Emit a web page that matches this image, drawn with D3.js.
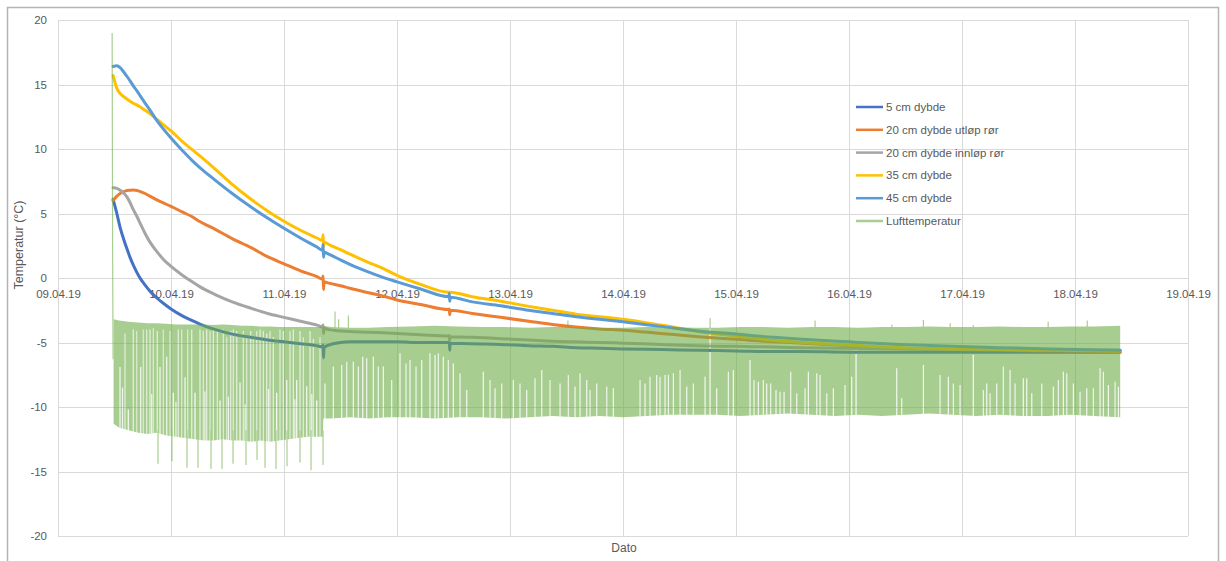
<!DOCTYPE html>
<html>
<head>
<meta charset="utf-8">
<script src="https://cdn.jsdelivr.net/npm/d3@7"></script>
<style>
  html, body { margin: 0; padding: 0; background: #fff; }
  svg { display: block; font-family: "Liberation Sans", Arial, sans-serif; }
</style>
</head>
<body>
<svg id="chart" width="1226" height="561"></svg>
<script>
// ---- Data -------------------------------------------------------------
// Time axis labels (day ticks) and temperature ticks
const xTickLabels = ["09.04.19", "10.04.19", "11.04.19", "12.04.19", "13.04.19",
                     "14.04.19", "15.04.19", "16.04.19", "17.04.19", "18.04.19", "19.04.19"];
const yTickValues = [-20, -15, -10, -5, 0, 5, 10, 15, 20];

const seriesNames = ["5 cm dybde", "20 cm dybde utløp rør", "20 cm dybde innløp rør",
                     "35 cm dybde", "45 cm dybde", "Lufttemperatur"];
const seriesColors = ["#4472C4", "#ED7D31", "#A5A5A5", "#FFC000", "#5B9BD5", "#70AD47"];

// Hours after 09.04.19 00:00 for the soil readings
const hours = [11.7, 12.5, 13.2, 14.0, 14.7, 15.3, 16.0, 16.8, 17.5, 18.5,
               19.5, 21.0, 22.5, 24.0, 26.5, 28.5, 30.0, 33.5, 37.0, 41.0,
               44.5, 48.0, 51.5, 55.0, 56.2, 56.3, 56.4, 56.5, 57.5, 60,
               62, 66, 69, 72, 77, 83.0, 83.1, 83.2, 83.3, 88,
               94, 100, 105, 110, 115, 120, 128, 136, 144, 152,
               158, 168, 179, 190, 200, 211, 225.6];

const depth5 = [6.1, 5.0, 3.9, 2.95, 2.2, 1.6, 1.0, 0.4, -0.05, -0.55,
                -1.0, -1.55, -2.0, -2.4, -2.95, -3.3, -3.55, -4.0, -4.35, -4.6,
                -4.8, -4.95, -5.1, -5.25, -5.35, -5.2, -6.2, -5.4, -5.2, -5.0,
                -4.95, -4.95, -4.95, -4.95, -5.0, -5.0, -4.95, -5.6, -5.05, -5.1,
                -5.15, -5.25, -5.3, -5.4, -5.45, -5.5, -5.55, -5.6, -5.65, -5.7,
                -5.7, -5.75, -5.75, -5.75, -5.75, -5.75, -5.75];

const outlet20 = [6.0, 6.35, 6.55, 6.7, 6.78, 6.8, 6.82, 6.78, 6.7, 6.55,
                  6.35, 6.05, 5.8, 5.55, 5.1, 4.75, 4.4, 3.75, 3.05, 2.35,
                  1.65, 1.1, 0.55, 0.1, -0.1, 0.15, -0.9, -0.3, -0.4, -0.6,
                  -0.8, -1.15, -1.4, -1.7, -2.05, -2.45, -2.4, -2.85, -2.5, -2.75,
                  -3.05, -3.35, -3.6, -3.8, -3.95, -4.05, -4.3, -4.55, -4.75, -4.95,
                  -5.05, -5.25, -5.45, -5.55, -5.6, -5.65, -5.7];

const inlet20 = [7.0, 6.95, 6.8, 6.55, 6.25, 5.85, 5.3, 4.75, 4.2, 3.45,
                 2.8, 2.05, 1.4, 0.9, 0.2, -0.3, -0.65, -1.3, -1.85, -2.35,
                 -2.75, -3.05, -3.35, -3.65, -3.8, -3.65, -4.3, -3.9, -4.0, -4.1,
                 -4.15, -4.2, -4.25, -4.3, -4.4, -4.5, -4.45, -4.85, -4.55, -4.6,
                 -4.7, -4.8, -4.9, -4.95, -5.0, -5.05, -5.15, -5.25, -5.3, -5.35,
                 -5.4, -5.45, -5.5, -5.55, -5.55, -5.6, -5.6];

const depth35 = [15.7, 14.7, 14.3, 14.05, 13.85, 13.7, 13.55, 13.4, 13.25, 13.0,
                 12.75, 12.3, 11.85, 11.4, 10.55, 9.95, 9.5, 8.4, 7.25, 6.1,
                 5.2, 4.4, 3.7, 3.1, 2.9, 3.35, 2.45, 2.8, 2.6, 2.2,
                 1.85, 1.2, 0.75, 0.2, -0.5, -1.1, -1.1, -1.1, -1.1, -1.45,
                 -1.8, -2.2, -2.5, -2.8, -3.0, -3.2, -3.65, -4.15, -4.5, -4.85,
                 -5.0, -5.2, -5.4, -5.5, -5.55, -5.6, -5.65];

const depth45 = [16.4, 16.45, 16.3, 15.95, 15.6, 15.28, 14.9, 14.48, 14.1, 13.56,
                 13.03, 12.2, 11.5, 10.85, 9.85, 9.1, 8.6, 7.55, 6.55, 5.5,
                 4.65, 3.85, 3.1, 2.4, 2.15, 2.6, 1.6, 2.0, 1.85, 1.4,
                 1.05, 0.45, 0.05, -0.3, -0.85, -1.45, -1.2, -1.8, -1.5, -1.85,
                 -2.15, -2.5, -2.75, -3.0, -3.2, -3.4, -3.75, -4.1, -4.35, -4.6,
                 -4.75, -4.95, -5.15, -5.3, -5.4, -5.5, -5.6];

// Air temperature: first readings after the logger was started
const airOnsetHours = [11.5, 11.6, 11.7];
const airOnsetValues = [19.0, 2.0, -6.3];

// Air temperature: fast swing, given as the upper and lower reading per time step
const airBandHours = [11.8, 13, 15, 17, 19, 21, 23, 25, 27, 29, 31, 33, 35, 37, 39, 41,
                      43, 45, 47, 49, 51, 53, 55, 56.25,
                      56.35, 58, 62, 66, 70, 75, 80, 85, 90, 95, 100, 105, 110, 115,
                      120, 125, 130, 135, 140, 145, 150, 155, 160, 165, 170, 175, 180,
                      185, 190, 195, 200, 205, 210, 215, 220, 225.6];
const airHigh = [-3.2, -3.3, -3.4, -3.45, -3.5, -3.5, -3.55, -3.6, -3.6, -3.6, -3.6, -3.65,
                 -3.6, -3.65, -3.7, -3.7, -3.75, -3.75, -3.8, -3.8, -3.8, -3.8, -3.8, -3.8,
                 -3.7, -3.8, -3.85, -3.85, -3.8, -3.75, -3.7, -3.75, -3.8, -3.8, -3.85, -3.8,
                 -3.8, -3.85, -3.85, -3.8, -3.8, -3.85, -3.85, -3.8, -3.8, -3.85, -3.8, -3.8,
                 -3.85, -3.8, -3.8, -3.75, -3.8, -3.8, -3.75, -3.8, -3.8, -3.75, -3.75, -3.7];
const airLow = [-11.3, -11.6, -11.8, -12.0, -12.1, -12.0, -12.2, -12.3, -12.4, -12.5, -12.6, -12.6,
                -12.5, -12.6, -12.6, -12.7, -12.6, -12.7, -12.6, -12.5, -12.4, -12.3, -12.3, -12.3,
                -10.9, -10.9, -10.8, -10.9, -10.8, -10.8, -10.9, -10.8, -10.8, -10.9, -10.8, -10.7,
                -10.8, -10.7, -10.8, -10.7, -10.6, -10.6, -10.6, -10.7, -10.6, -10.5, -10.6, -10.7,
                -10.6, -10.7, -10.6, -10.5, -10.6, -10.7, -10.6, -10.7, -10.7, -10.6, -10.7, -10.8];

// Single cold dips below the swing
const airDipHours = [21.24, 24.21, 27.4, 29.74, 32.5, 34.83, 37.17, 39.93, 42.27, 43.97,
                     46.3, 48.64, 51.4, 53.74, 56.29];
const airDipValues = [-14.4, -14.2, -14.7, -14.7, -14.8, -14.8, -14.4, -14.5, -14.1, -14.7,
                      -14.8, -14.6, -14.3, -14.9, -14.5];

// Single warm peaks above the swing
const airPeakHours = [58.84, 59.6, 61.67, 108.3, 138.5, 160.8, 177.1, 183.8, 189.5, 194.4, 210.3, 218.6];
const airPeakValues = [-2.6, -3.2, -2.9, -3.3, -3.1, -3.3, -3.6, -3.25, -3.5, -3.65, -3.4, -3.3];

// Time steps where the swing stayed shallow: [hour, lowest reading, share of step left open]
const airShallowSteps = [
  [13.17, -6.9, .85], [14.23, -4.3, .65], [14.93, -10.2, .9], [15.99, -4.0, .7], [16.72, -4.1, .6],
  [17.57, -6.9, .9], [18.12, -4.0, .6], [18.84, -4.0, .65], [19.54, -4.0, .7], [20.24, -3.9, .6],
  [21.09, -4.1, .7], [21.67, -6.9, .9], [22.37, -4.0, .6], [23.09, -6.1, .85], [23.79, -4.1, .6],
  [24.49, -8.9, .95], [25.55, -4.0, .7], [26.27, -4.0, .6], [26.98, -7.7, .9], [27.55, -4.0, .6],
  [28.4, -4.0, .7], [29.1, -8.9, .95], [30.16, -4.0, .7], [30.86, -4.1, .65], [31.58, -4.0, .7],
  [32.29, -4.1, .65], [32.99, -4.0, .7], [33.84, -4.0, .65], [34.41, -9.5, .95], [35.11, -4.0, .65],
  [35.83, -4.6, .6], [36.68, -4.1, .7], [37.23, -4.0, .65], [37.96, -4.1, .7], [38.66, -8.1, .9],
  [39.36, -4.1, .65], [40.08, -4.6, .6], [40.93, -4.1, .7], [41.48, -4.7, .6], [42.21, -4.1, .65],
  [42.91, -4.0, .7], [43.61, -4.1, .65], [44.33, -4.3, .7], [45.03, -4.1, .65], [45.73, -4.6, .7],
  [46.45, -8.9, .95], [47.15, -4.0, .65], [47.85, -4.1, .7], [48.58, -7.9, .9], [49.28, -4.1, .65],
  [49.98, -4.0, .7], [50.7, -7.9, .9], [51.4, -4.1, .7], [52.1, -4.6, .65], [52.83, -8.4, .9],
  [53.53, -4.1, .7], [54.23, -4.7, .65], [54.95, -9.5, .95], [55.65, -4.6, .65],
  [13.7, -8.5, .8], [19.9, -9.0, .8], [25.05, -9.6, .8], [31.2, -8.8, .8], [36.2, -9.2, .8],
  [39.75, -9.8, .8], [44.7, -8.6, .8], [50.3, -9.4, .8], [53.9, -9.0, .8],
  [56.71, -8.17, .85], [58.48, -6.87, .85], [60.25, -6.74, .85], [61.32, -6.49, .8], [62.73, -6.49, .85],
  [63.79, -6.87, .8], [64.72, -6.1, .85], [65.57, -6.23, .8], [66.97, -6.1, .85], [68.03, -6.87, .8],
  [69.1, -6.87, .85], [70.87, -7.91, .8], [72.64, -5.84, .85], [73.92, -6.62, .8], [74.77, -6.36, .85],
  [76.04, -6.87, .8], [77.25, -6.36, .85], [79.0, -5.84, .8], [80.08, -5.97, .85], [80.78, -5.84, .8],
  [81.84, -6.1, .85], [82.9, -6.36, .8], [83.97, -6.62, .85], [85.39, -7.39, .8], [86.81, -8.68, .85],
  [90.34, -7.26, .85], [91.76, -7.91, .8], [92.82, -8.55, .85], [94.24, -8.17, .8], [96.71, -7.91, .85],
  [98.13, -8.17, .8], [99.55, -8.68, .85], [101.32, -7.78, .8], [102.74, -7.13, .85], [104.5, -7.91, .8],
  [106.63, -8.17, .85], [108.39, -7.52, .8], [109.81, -8.42, .85], [110.88, -7.39, .8], [112.3, -7.91, .85],
  [113.0, -8.68, .8], [114.42, -8.17, .85], [116.55, -8.42, .8], [117.95, -8.55, .85], [123.62, -7.91, .8],
  [124.68, -8.17, .85], [125.74, -7.65, .8], [127.16, -7.52, .85], [127.87, -7.65, .8], [128.93, -7.52, .85],
  [129.64, -7.52, .8], [130.7, -7.39, .85], [132.12, -7.13, .8], [133.54, -8.42, .85], [134.94, -8.17, .8],
  [137.43, -7.65, .85], [138.49, -3.9, .9], [139.9, -8.55, .85], [142.38, -7.26, .8], [143.44, -7.13, .85],
  [146.98, -6.36, .85], [147.83, -7.91, .8], [148.75, -8.04, .85], [149.81, -7.91, .8], [150.52, -8.17, .85],
  [151.37, -8.17, .8], [152.5, -8.68, .85], [153.36, -8.81, .8], [154.21, -8.81, .85], [155.62, -7.26, .8],
  [156.9, -8.94, .85], [158.67, -8.55, .8], [159.37, -7.26, .85], [161.15, -7.39, .8], [161.85, -7.52, .85],
  [163.27, -8.94, .8], [164.68, -8.55, .85], [167.16, -8.3, .8], [168.58, -7.65, .85], [169.5, -5.58, .9],
  [178.14, -7.0, .85], [179.2, -9.33, .8], [183.8, -6.74, .85], [187.34, -7.52, .8], [189.1, -7.65, .85],
  [190.17, -8.17, .8], [191.59, -8.3, .85], [194.4, -5.97, .9], [196.54, -8.68, .8], [197.25, -8.17, .85],
  [197.96, -8.94, .8], [199.38, -8.17, .85], [200.78, -6.87, .8], [202.21, -7.13, .85], [203.27, -8.17, .8],
  [205.03, -7.78, .85], [205.75, -7.78, .8], [206.82, -8.94, .85], [208.94, -8.17, .8], [211.41, -8.42, .85],
  [212.47, -7.91, .8], [213.53, -7.26, .85], [214.25, -7.39, .8], [215.66, -8.17, .85], [217.08, -8.81, .8],
  [218.5, -8.55, .85], [219.9, -8.55, .8], [221.33, -7.0, .85], [222.03, -7.26, .8], [223.09, -8.3, .85],
  [224.51, -8.04, .8], [225.22, -8.42, .85]
];

// ---- Layout -------------------------------------------------------------
const W = 1226, H = 561;
const plot = { left: 58, right: 1188, top: 20, bottom: 536 };
const textColor = "#595959";
const gridColor = "#d9d9d9";

const parseDay = d3.utcParse("%d.%m.%y");
const dayTicks = xTickLabels.map(parseDay);
const startMs = dayTicks[0].getTime();
const toDate = h => new Date(startMs + h * 3600000);

const x = d3.scaleUtc()
  .domain([dayTicks[0], dayTicks[dayTicks.length - 1]])
  .range([plot.left, plot.right]);
const y = d3.scaleLinear()
  .domain([d3.min(yTickValues), d3.max(yTickValues)])
  .range([plot.bottom, plot.top]);

const svg = d3.select("#chart");

// Chart frame
svg.append("rect")
  .attr("x", 7.5).attr("y", 7.5)
  .attr("width", 1211).attr("height", 560)
  .attr("fill", "#fff")
  .attr("stroke", "#b4b4b4").attr("stroke-width", 1.5);

// Gridlines
const grid = svg.append("g").attr("shape-rendering", "crispEdges");
grid.selectAll(".hgrid").data(yTickValues).join("line")
  .attr("x1", plot.left).attr("x2", plot.right)
  .attr("y1", d => Math.round(y(d)) + 0.5).attr("y2", d => Math.round(y(d)) + 0.5)
  .attr("stroke", gridColor);
grid.selectAll(".vgrid").data(dayTicks).join("line")
  .attr("x1", d => Math.round(x(d)) + 0.5).attr("x2", d => Math.round(x(d)) + 0.5)
  .attr("y1", plot.top).attr("y2", plot.bottom)
  .attr("stroke", gridColor);

// Axes (labels only; the lines come from the grid)
const yAxis = svg.append("g")
  .attr("transform", `translate(${plot.left},0)`)
  .call(d3.axisLeft(y).tickValues(yTickValues).tickSize(0).tickPadding(11).tickFormat(d => String(d)));
const xAxis = svg.append("g")
  .attr("transform", `translate(0,${y(0)})`)
  .call(d3.axisBottom(x).tickValues(dayTicks).tickSize(0).tickPadding(12)
        .tickFormat((d, i) => xTickLabels[i]));
[xAxis, yAxis].forEach(a => {
  a.select(".domain").remove();
  a.selectAll("text")
    .attr("fill", textColor)
    .style("font-family", '"Liberation Sans", Arial, sans-serif')
    .style("font-size", "11.5px");
});

// Axis titles
svg.append("text")
  .attr("x", 624).attr("y", 552)
  .attr("text-anchor", "middle")
  .attr("fill", textColor).style("font-size", "12px")
  .text("Dato");
svg.append("text")
  .attr("transform", "translate(23,245) rotate(-90)")
  .attr("text-anchor", "middle")
  .attr("fill", textColor).style("font-size", "12.5px")
  .text("Temperatur (°C)");

// ---- Soil temperature series --------------------------------------------
const soilSeries = [depth5, outlet20, inlet20, depth35, depth45];
const soilLine = d3.line()
  .x((d, i) => x(toDate(hours[i])))
  .y(d => y(d))
  .curve(d3.curveMonotoneX);

svg.append("g").selectAll("path").data(soilSeries).join("path")
  .attr("d", d => soilLine(d))
  .attr("fill", "none")
  .attr("stroke", (d, i) => seriesColors[i])
  .attr("stroke-width", 3)
  .attr("stroke-linejoin", "round")
  .attr("stroke-linecap", "round");

// ---- Air temperature -------------------------------------------------------
const airColor = seriesColors[5];
const defs = svg.append("defs");
const mask = defs.append("mask")
  .attr("id", "air-open-steps")
  .attr("maskUnits", "userSpaceOnUse")
  .attr("x", 0).attr("y", 0).attr("width", W).attr("height", H);
mask.append("rect").attr("x", 0).attr("y", 0).attr("width", W).attr("height", H).attr("fill", "#fff");
mask.selectAll("line").data(airShallowSteps).join("line")
  .attr("x1", d => x(toDate(d[0]))).attr("x2", d => x(toDate(d[0])))
  .attr("y1", d => y(d[1])).attr("y2", y(-13.5))
  .attr("stroke", "#000")
  .attr("stroke-opacity", d => d[2])
  .attr("stroke-width", 1.2);

const airBand = airBandHours.map((h, i) => ({ h, hi: airHigh[i], lo: airLow[i] }));
const airArea = d3.area()
  .x(d => x(toDate(d.h)))
  .y0(d => y(d.lo))
  .y1(d => y(d.hi));

const air = svg.append("g").attr("opacity", 0.6);
air.append("path")
  .attr("d", airArea(airBand))
  .attr("fill", airColor)
  .attr("mask", "url(#air-open-steps)");

air.append("path")
  .attr("d", d3.line().x((d, i) => x(toDate(airOnsetHours[i]))).y(d => y(d))(airOnsetValues))
  .attr("fill", "none")
  .attr("stroke", airColor)
  .attr("stroke-width", 1.2);

air.selectAll(".dip").data(airDipHours).join("line")
  .attr("x1", d => x(toDate(d))).attr("x2", d => x(toDate(d)))
  .attr("y1", y(-11.8)).attr("y2", (d, i) => y(airDipValues[i]))
  .attr("stroke", airColor).attr("stroke-width", 1.2);

air.selectAll(".peak").data(airPeakHours).join("line")
  .attr("x1", d => x(toDate(d))).attr("x2", d => x(toDate(d)))
  .attr("y1", y(-4.0)).attr("y2", (d, i) => y(airPeakValues[i]))
  .attr("stroke", airColor).attr("stroke-width", 1.2);

// ---- Legend ---------------------------------------------------------------
const legend = svg.append("g").attr("transform", "translate(856,107)");
const rows = legend.selectAll("g").data(seriesNames).join("g")
  .attr("transform", (d, i) => `translate(0,${i * 22.8})`);
rows.append("line")
  .attr("x1", 0).attr("x2", 27).attr("y1", 0).attr("y2", 0)
  .attr("stroke", (d, i) => seriesColors[i])
  .attr("stroke-opacity", (d, i) => i === 5 ? 0.6 : 1)
  .attr("stroke-width", 2.5);
rows.append("text")
  .attr("x", 30).attr("y", 0).attr("dy", "0.35em")
  .attr("fill", textColor).style("font-size", "11.5px")
  .text(d => d);
</script>
</body>
</html>
